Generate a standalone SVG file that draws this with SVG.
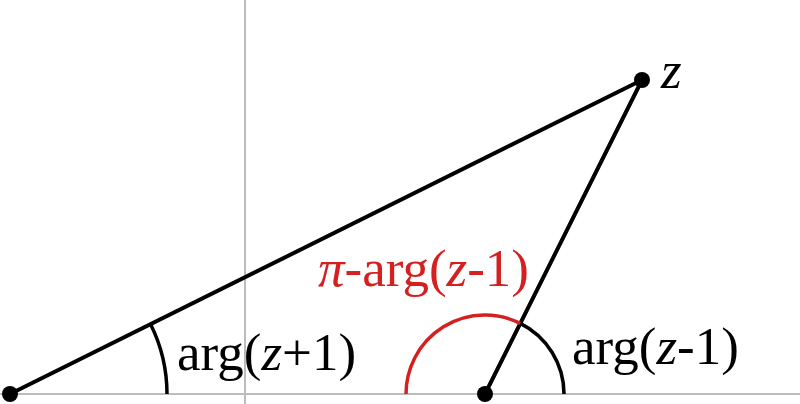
<svg xmlns="http://www.w3.org/2000/svg" width="800" height="404" viewBox="0 0 800 404">
<style>
.ax{stroke:#bdbdbd;stroke-width:2;fill:none}
.seg{stroke:#000;stroke-width:4;fill:none;stroke-linecap:round}
.arc{stroke:#000;stroke-width:3.5;fill:none}
.red{stroke:#d42020}
.t{font-family:"Liberation Serif","Times New Roman",serif;font-size:53px;fill:#000}
.tr{fill:#d42020}
.dot{fill:#000}
</style>
<rect width="800" height="404" fill="#fff"/>
<g id="axes">
<line class="ax" x1="245" y1="0" x2="245" y2="404"/>
<line class="ax" x1="0" y1="394" x2="800" y2="394"/>
</g>
<g id="connectors">
<line class="seg" x1="10" y1="394" x2="642" y2="80"/>
<line class="seg" x1="485" y1="394" x2="642" y2="80"/>
</g>
<g id="arcs">
<path class="arc" d="M167 394 A157 157 0 0 0 150.6 324.2"/>
<path class="arc red" d="M406 394 A79 79 0 0 1 520.3 323.4"/>
<path class="arc" d="M520.3 323.4 A79 79 0 0 1 564 394"/>
</g>
<g id="p-minus1"><circle class="dot" cx="10" cy="394" r="8"/></g>
<g id="p-1"><circle class="dot" cx="485" cy="394" r="8"/></g>
<g id="p-z"><circle class="dot" cx="642" cy="80" r="8"/>
<text class="t" x="661" y="88" font-style="italic">z</text></g>
<g id="label-arg-z-plus-1"><text class="t" x="177" y="370">arg(<tspan font-style="italic">z</tspan>+1)</text></g>
<g id="label-pi-minus"><text class="t tr" x="318" y="286"><tspan font-style="italic">π</tspan>-arg(<tspan font-style="italic">z</tspan>-1)</text></g>
<g id="label-arg-z-minus-1"><text class="t" x="572" y="364">arg(<tspan font-style="italic">z</tspan>-1)</text></g>
</svg>
